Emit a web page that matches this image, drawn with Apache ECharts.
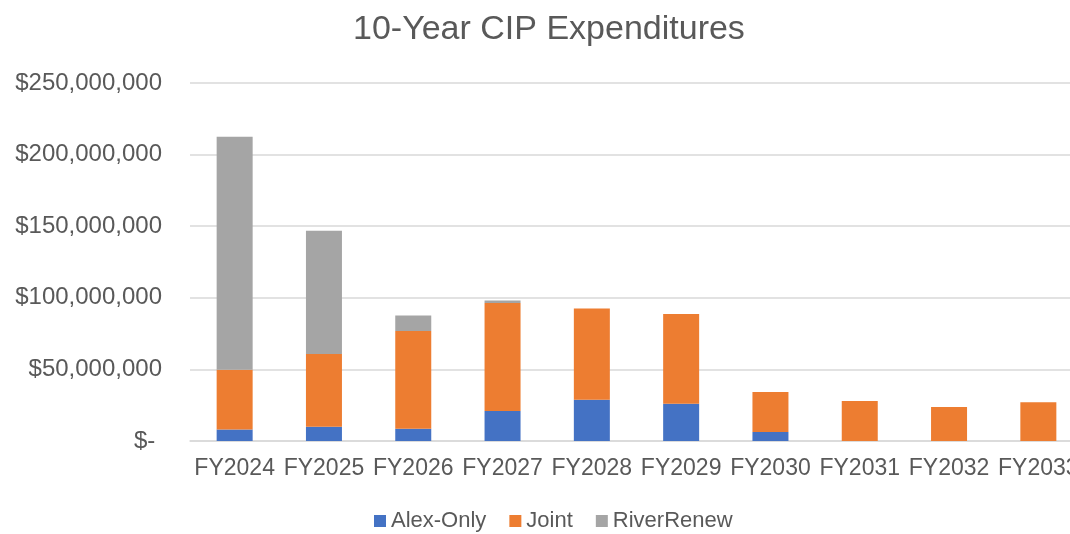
<!DOCTYPE html>
<html>
<head>
<meta charset="utf-8">
<script src="https://cdn.jsdelivr.net/npm/echarts@6/dist/echarts.min.js"></script>
<style>
  html, body { margin: 0; padding: 0; background: #fff; }
  #main { width: 1070px; height: 534px; }
</style>
</head>
<body>
<div id="main"></div>
<script>
// 10-Year CIP Expenditures (dollars)
var years = ['FY2024', 'FY2025', 'FY2026', 'FY2027', 'FY2028', 'FY2029', 'FY2030', 'FY2031', 'FY2032', 'FY2033'];
var alexOnly = [8000000, 10000000, 8600000, 20900000, 28800000, 26000000, 6300000, 0, 0, 0];
var joint = [41700000, 50800000, 68200000, 75400000, 63800000, 62700000, 28000000, 27900000, 23700000, 27000000];
var riverRenew = [162700000, 86100000, 10900000, 1900000, 0, 0, 0, 0, 0, 0];
var seriesNames = ['Alex-Only', 'Joint', 'RiverRenew'];
var colors = ['#4472C4', '#ED7D31', '#A5A5A5'];

var fontName = 'Liberation Sans';
var textColor = '#595959';

function money(v){
  if (v === 0) return '$- ';
  return '$' + v.toLocaleString('en-US');
}

function barSeries(name, data){
  return {
    name: name,
    type: 'bar',
    stack: 'total',
    barWidth: 36,
    data: data
  };
}

var option = {
  animation: false,
  color: colors,
  title: {
    text: '10-Year CIP Expenditures',
    left: 348,
    top: 8,
    textStyle: {
      fontFamily: fontName,
      fontSize: 34,
      fontWeight: 'normal',
      color: textColor
    }
  },
  legend: {
    data: seriesNames,
    bottom: -3,
    left: 369,
    itemWidth: 12,
    itemHeight: 12,
    itemGap: 23,
    icon: 'rect',
    textStyle: {
      fontFamily: fontName,
      fontSize: 22,
      color: textColor
    }
  },
  grid: {
    left: 190,
    top: 83,
    width: 893,
    bottom: 93,
    outerBoundsMode: 'none'
  },
  xAxis: {
    type: 'category',
    data: years,
    axisTick: { show: false },
    axisLine: { lineStyle: { color: '#d9d9d9', width: 1.5 } },
    axisLabel: {
      margin: 16,
      fontFamily: fontName,
      fontSize: 23,
      color: textColor,
      interval: 0
    }
  },
  yAxis: {
    type: 'value',
    min: 0,
    max: 250000000,
    interval: 50000000,
    axisLine: { show: false },
    axisTick: { show: false },
    axisLabel: {
      margin: 28,
      fontFamily: fontName,
      fontSize: 24,
      color: textColor,
      formatter: money
    },
    splitLine: { lineStyle: { color: '#d9d9d9', width: 1.5 } }
  },
  series: [
    barSeries(seriesNames[0], alexOnly),
    barSeries(seriesNames[1], joint),
    barSeries(seriesNames[2], riverRenew)
  ]
};

var chart = echarts.init(document.getElementById('main'));
chart.setOption(option);
</script>
</body>
</html>
